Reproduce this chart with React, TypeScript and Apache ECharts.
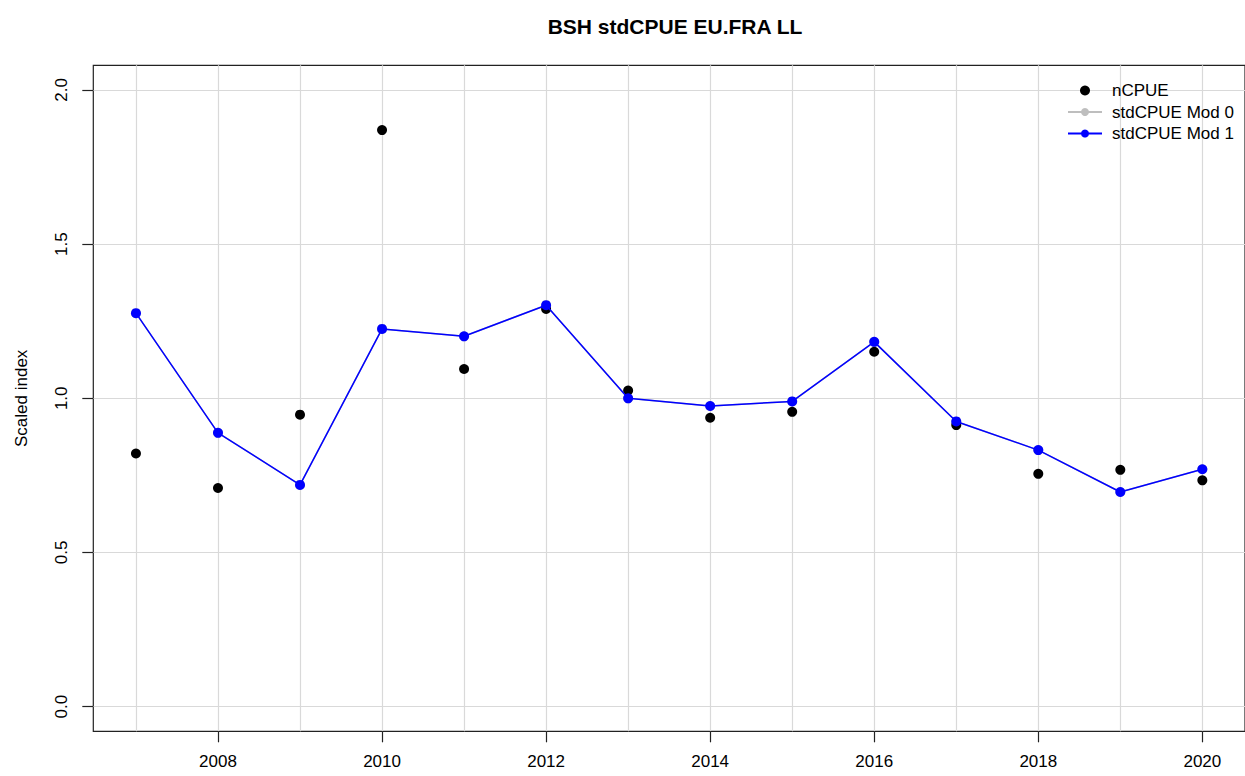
import React, { useEffect, useRef } from "react";
import * as echarts from "echarts";

const years = [2007, 2008, 2009, 2010, 2011, 2012, 2013, 2014, 2015, 2016, 2017, 2018, 2019, 2020];
const nCPUE = [0.821, 0.709, 0.947, 1.870, 1.095, 1.290, 1.025, 0.937, 0.956, 1.151, 0.913, 0.755, 0.768, 0.734];
const stdMod0 = [1.276, 0.888, 0.719, 1.225, 1.201, 1.302, 1.000, 0.975, 0.990, 1.183, 0.925, 0.832, 0.696, 0.770];
const stdMod1 = [1.276, 0.888, 0.719, 1.225, 1.201, 1.302, 1.000, 0.975, 0.990, 1.183, 0.925, 0.832, 0.696, 0.770];
const xTickLabels = [2008, 2010, 2012, 2014, 2016, 2018, 2020];
const yTickLabels = [0, 0.5, 1.0, 1.5, 2.0];

const FONT = "'Liberation Sans', Arial, Helvetica, sans-serif";

export default function App() {
  const ref = useRef<HTMLDivElement>(null);
  useEffect(() => {
    if (!ref.current) return;
    const chart = echarts.init(ref.current, null, { renderer: "svg" });
    const xMin = 2006.48;
    const xMax = 2020.52;
    const yMin = -0.08;
    const yMax = 2.08;
    chart.setOption({
      animation: false,
      backgroundColor: "#ffffff",
      textStyle: { fontFamily: FONT },
      title: {
        text: "BSH stdCPUE EU.FRA LL",
        left: 670,
        top: 11,
        textAlign: "center",
        textStyle: { fontFamily: FONT, fontSize: 21, fontWeight: "bold", color: "#000" },
      },
      legend: {
        orient: "vertical",
        left: 1062,
        top: 77,
        itemWidth: 34,
        itemHeight: 10,
        itemGap: 4.5,
        textStyle: { fontFamily: FONT, fontSize: 17, color: "#000", lineHeight: 17, padding: [0, 0, 0, 5] },
        data: [
          { name: "nCPUE", icon: "circle", itemStyle: { color: "#000", opacity: 1 } },
          { name: "stdCPUE Mod 0" },
          { name: "stdCPUE Mod 1" },
        ],
      },
      grid: {
        left: 93.3,
        top: 65.3,
        width: 1153.4,
        height: 666,
        show: true,
        borderColor: "#222",
        borderWidth: 1.2,
        backgroundColor: "transparent",
        containLabel: false,
      },
      xAxis: [
        {
          type: "value",
          min: xMin,
          max: xMax,
          axisLine: { show: false },
          axisTick: { show: false, customValues: years },
          axisLabel: { show: false, customValues: years },
          splitLine: { show: true, lineStyle: { color: "#d9d9d9", width: 1.2 } },
        },
        {
          type: "value",
          min: xMin,
          max: xMax,
          position: "bottom",
          axisLine: { show: false },
          axisTick: { show: true, length: 11, customValues: xTickLabels, lineStyle: { color: "#222", width: 1.2 } },
          axisLabel: {
            show: true,
            customValues: xTickLabels,
            margin: 22,
            fontSize: 17,
            color: "#000",
            fontFamily: FONT,
            formatter: (v: number) => String(v),
          },
          splitLine: { show: false },
        },
      ],
      yAxis: [
        {
          type: "value",
          min: yMin,
          max: yMax,
          name: "Scaled index",
          nameLocation: "middle",
          nameRotate: 90,
          nameGap: 63,
          nameTextStyle: { fontFamily: FONT, fontSize: 17, color: "#000" },
          axisLine: { show: false },
          axisTick: { show: true, length: 11, customValues: yTickLabels, lineStyle: { color: "#222", width: 1.2 } },
          axisLabel: {
            show: true,
            customValues: yTickLabels,
            rotate: 90,
            margin: 23,
            fontSize: 17,
            color: "#000",
            fontFamily: FONT,
            formatter: (v: number) => v.toFixed(1),
          },
          splitLine: { show: true, lineStyle: { color: "#d9d9d9", width: 1.2 } },
        },
      ],
      series: [
        {
          name: "nCPUE",
          type: "scatter",
          xAxisIndex: 0,
          data: years.map((y, i) => [y, nCPUE[i]]),
          symbol: "circle",
          symbolSize: 10,
          itemStyle: { color: "#000000", opacity: 1 },
          z: 3,
        },
        {
          name: "stdCPUE Mod 0",
          type: "line",
          xAxisIndex: 0,
          data: years.map((y, i) => [y, stdMod0[i]]),
          symbol: "circle",
          symbolSize: 10,
          showSymbol: true,
          itemStyle: { color: "#bebebe", opacity: 1 },
          lineStyle: { color: "#bebebe", width: 1.5 },
          z: 2,
        },
        {
          name: "stdCPUE Mod 1",
          type: "line",
          xAxisIndex: 0,
          data: years.map((y, i) => [y, stdMod1[i]]),
          symbol: "circle",
          symbolSize: 10,
          showSymbol: true,
          itemStyle: { color: "#0000ff", opacity: 1 },
          lineStyle: { color: "#0000ff", width: 1.5 },
          z: 4,
        },
      ],
    });
    return () => chart.dispose();
  }, []);
  return (
    <div
      ref={ref}
      style={{ position: "absolute", left: 0, top: 0, width: 1245, height: 776, background: "#fff" }}
    />
  );
}
